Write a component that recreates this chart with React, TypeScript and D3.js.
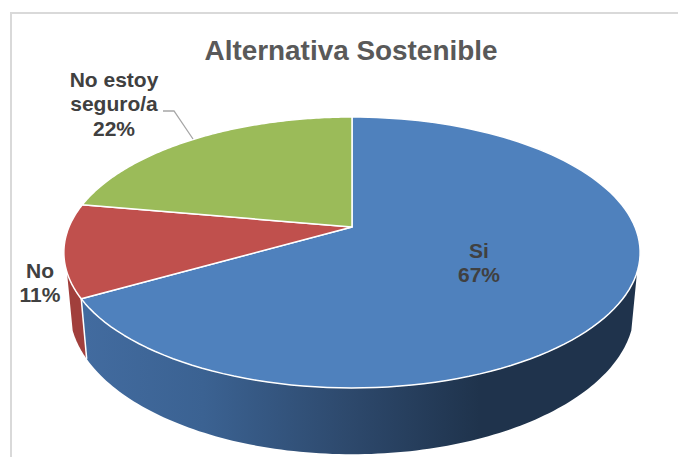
import React from "react";
import * as d3 from "d3";

const categories = ["Si", "No", "No estoy seguro/a"];
const values = [66.7, 11.1, 22.2];
const topColors = ["#4f81bd", "#c0504d", "#9bbb59"];
const titleText = "Alternativa Sostenible";

const W = 678, H = 457;
const cx = 352, apexY = 227;
const R = 283, hh = 130.7, k = 0.188;
const FONT = "'Liberation Sans', Arial, sans-serif";

// perspective projection of a point on the unit disc (angle clockwise from top)
const projTop = (a: number, r = 1): [number, number] => {
  const X = r * Math.sin(a), Y = r * Math.cos(a), w = 1 + k * Y;
  return [cx + (R * X) / w, apexY - (hh * Y) / w];
};
const projBottom = (a: number): [number, number] => {
  const X = Math.sin(a), Y = Math.cos(a), w = 1 + k * Y;
  return [cx + (0.98 * R * X) / w, apexY + 55 - (1.07 * hh * Y) / w];
};

const pie = d3.pie<number>().sort(null).value((d) => d);
const arcs = pie(values);
const line = d3.line();
const sweep = (a0: number, a1: number) => d3.range(0, 121).map((i) => a0 + ((a1 - a0) * i) / 120);

const facePath = (a0: number, a1: number) =>
  line([[cx, apexY], ...sweep(a0, a1).map((a) => projTop(a))])! + "Z";
const wallPath = (a0: number, a1: number) =>
  line([...sweep(a0, a1).map((a) => projTop(a)), ...sweep(a0, a1).reverse().map((a) => projBottom(a))])! + "Z";

const deg = Math.PI / 180;
const pct = (v: number) => `${Math.round(v)}%`;
const lineLabel = (x: number, ys: number[], lines: string[]) =>
  lines.map((t, i) => (
    <text key={t} x={x} y={ys[i]} textAnchor="middle" fontFamily={FONT} fontWeight={700} fontSize={21} fill="#404040">{t}</text>
  ));

export default function App() {
  return (
    <svg width={W} height={H} style={{ position: "absolute", left: 0, top: 0, background: "#fff" }}>
      <defs>
        <linearGradient id="blueWall" gradientUnits="userSpaceOnUse" x1={85} x2={480} y1={0} y2={0}>
          <stop offset="0" stopColor="#426b9f" />
          <stop offset="0.3" stopColor="#3b6292" />
          <stop offset="0.65" stopColor="#2e4a6e" />
          <stop offset="1" stopColor="#1f334c" />
        </linearGradient>
      </defs>
      <path d={`M11,${H}V13H${W}`} fill="none" stroke="#d9d9d9" strokeWidth={2} />
      <text x={351} y={60} textAnchor="middle" fontFamily={FONT} fontWeight={700} fontSize={27.9} fill="#595959">{titleText}</text>

      <path d={wallPath(arcs[1].startAngle, 251 * deg)} fill="#a13f3c" />
      <path d={wallPath(109 * deg, arcs[0].endAngle)} fill="url(#blueWall)" />
      <path d={line([projTop(arcs[1].startAngle), projBottom(arcs[1].startAngle)])!} stroke="#fff" strokeWidth={1.5} fill="none" />

      {arcs.map((d, i) => (
        <path key={categories[i]} d={facePath(d.startAngle, d.endAngle)} fill={topColors[i]} stroke="#fff" strokeWidth={1.5} strokeLinejoin="round" />
      ))}

      <path d="M163,111H174L193,139" fill="none" stroke="#a6a6a6" strokeWidth={1.3} />
      {lineLabel(114, [87, 111, 136], ["No estoy", "seguro/a", pct(values[2])])}
      {lineLabel(40, [278, 302], [categories[1], pct(values[1])])}
      {lineLabel(479, [258, 282], [categories[0], pct(values[0])])}
    </svg>
  );
}
